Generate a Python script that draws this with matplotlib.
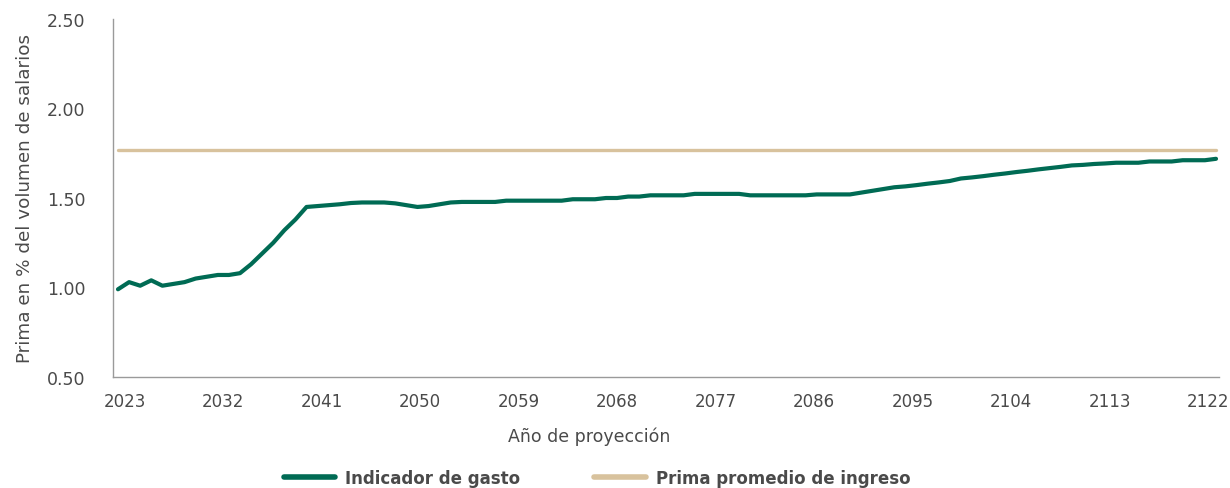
import matplotlib
matplotlib.use("Agg")
import matplotlib.pyplot as plt
import matplotlib.transforms as mtransforms
import numpy as np

years = list(range(2023, 2123))
indicador_gasto = [
    0.99, 1.03, 1.01, 1.04, 1.01, 1.02, 1.03, 1.05, 1.06, 1.07,   # 2023-2032
    1.07, 1.08, 1.13, 1.19, 1.25, 1.32, 1.38, 1.45, 1.455, 1.46,  # 2033-2042
    1.465, 1.472, 1.475, 1.475, 1.475, 1.47, 1.46, 1.45, 1.455, 1.465,  # 2043-2052
    1.475, 1.478, 1.478, 1.478, 1.478, 1.485, 1.485, 1.485, 1.485, 1.485,  # 2053-2062
    1.485, 1.493, 1.493, 1.493, 1.50, 1.50, 1.508, 1.508, 1.515, 1.515,  # 2063-2072
    1.515, 1.515, 1.523, 1.523, 1.523, 1.523, 1.523, 1.515, 1.515, 1.515,  # 2073-2082
    1.515, 1.515, 1.515, 1.52, 1.52, 1.52, 1.52, 1.53, 1.54, 1.55,  # 2083-2092
    1.56, 1.565, 1.572, 1.58, 1.587, 1.595, 1.609, 1.615, 1.622, 1.63,  # 2093-2102
    1.637, 1.645, 1.652, 1.66, 1.667, 1.674, 1.682, 1.685, 1.69, 1.693,  # 2103-2112
    1.697, 1.697, 1.697, 1.704, 1.704, 1.704, 1.711, 1.711, 1.711, 1.719,  # 2113-2122
]
prima_promedio = 1.77
xticks = [2023, 2032, 2041, 2050, 2059, 2068, 2077, 2086, 2095, 2104, 2113, 2122]
yticks = [0.50, 1.00, 1.50, 2.00, 2.50]

green = "#006B54"
beige = "#D8C29D"
textc = "#4A4A4A"

plt.rcParams['font.family'] = ['DejaVu Sans']
fig = plt.figure(figsize=(12.3, 4.89), dpi=100)
ax = fig.add_axes([113/1230, 1-378/489, (1219-113)/1230, (378-20)/489])

ax.plot(years, indicador_gasto, color=green, lw=3.0, solid_capstyle='round',
        label="Indicador de gasto", zorder=3)
ax.plot([years[0], years[-1]], [prima_promedio, prima_promedio], color=beige, lw=2.4,
        solid_capstyle='round', label="Prima promedio de ingreso", zorder=2)

ax.set_xlim(2022.55, 2122.27)
ax.set_ylim(0.5, 2.5)
ax.set_xticks(xticks)
ax.set_xticklabels([str(t) for t in xticks])
ax.set_yticks(yticks)
ax.set_yticklabels([f"{t:.2f}" for t in yticks])
ax.tick_params(axis='both', length=0, labelsize=12, colors=textc)
ax.tick_params(axis='y', labelsize=12.5, pad=20)
ax.tick_params(axis='x', pad=11)

# category-style label placement: labels spread slightly inward from data positions
n = len(xticks)
for k, lab in enumerate(ax.get_xticklabels()):
    dx_px = 6.5 - 14.5 * k / (n - 1)
    lab.set_transform(lab.get_transform() +
                      mtransforms.ScaledTranslation(dx_px / 100, 0, fig.dpi_scale_trans))

for s in ['top', 'right']:
    ax.spines[s].set_visible(False)
for s in ['left', 'bottom']:
    ax.spines[s].set_color('#9A9A9A')
    ax.spines[s].set_linewidth(1.0)

ax.set_ylabel("Prima en % del volumen de salarios", fontsize=13.2, color=textc, labelpad=9)
fig.text(589/1230, 1-437/489, "Año de proyección", ha='center', va='center',
         fontsize=12.5, color=textc)

handles, labels = ax.get_legend_handles_labels()
leg = fig.legend(handles, labels, loc='center', bbox_to_anchor=(597/1230, 1-479/489),
                 ncol=2, frameon=False, fontsize=12, handlelength=3.1,
                 columnspacing=4.4, handletextpad=0.6)
for t in leg.get_texts():
    t.set_fontweight('bold')
    t.set_color(textc)
for l in leg.get_lines():
    l.set_linewidth(4)

fig.savefig("out.png", dpi=100)
